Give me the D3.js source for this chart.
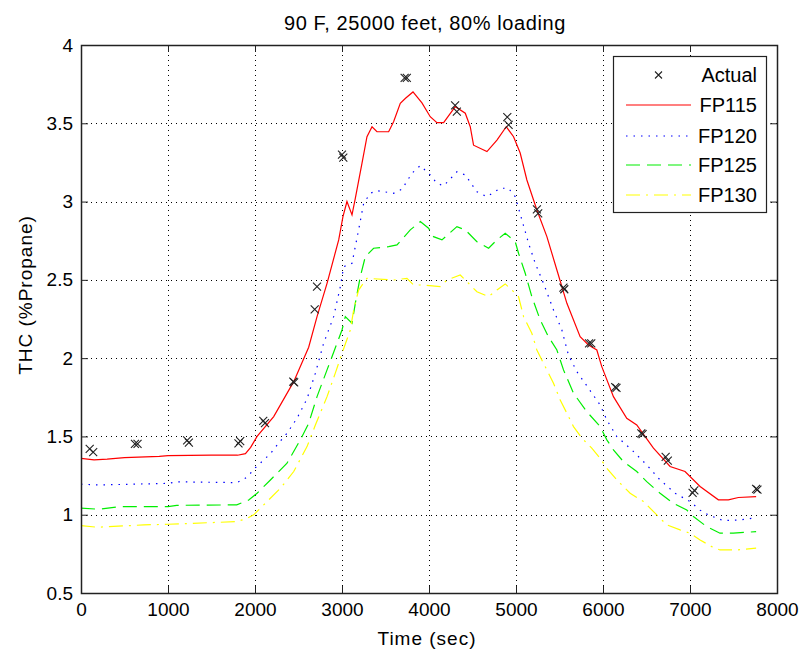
<!DOCTYPE html>
<html>
<head>
<meta charset="utf-8">
<script src="https://cdn.jsdelivr.net/npm/d3@7"></script>
<style>
html,body{margin:0;padding:0;background:#fff;}
svg text{font-family:"Liberation Sans",Arial,sans-serif;fill:#000;}
</style>
</head>
<body>
<svg id="chart" width="801" height="649"></svg>
<script>
// ---------- data ----------
const chartTitle = "90 F, 25000 feet, 80% loading";
const xLabel = "Time (sec)";
const yLabel = "THC (%Propane)";
const xTicks = [0,1000,2000,3000,4000,5000,6000,7000,8000];
const yTicks = [0.5,1,1.5,2,2.5,3,3.5,4];

const actualTime  = [100,140,620,650,1220,1240,1810,1830,2095,2115,2440,2450,2686,2713,3000,3015,3720,3745,4300,4320,4900,4915,5240,5255,5545,5555,5840,5865,6140,6155,6440,6455,6720,6745,7030,7050,7760,7775];
const actualValue = [1.42,1.40,1.452,1.452,1.475,1.46,1.455,1.47,1.60,1.585,1.85,1.845,2.312,2.457,3.30,3.28,3.79,3.79,3.615,3.575,3.54,3.49,2.95,2.925,2.45,2.44,2.095,2.095,1.815,1.81,1.52,1.515,1.37,1.345,1.14,1.155,1.165,1.16];

const fp115Time  = [0,150,300,500,900,1000,1500,1800,1890,1950,2024,2215,2445,2617,2713,2828,2962,3011,3057,3115,3153,3230,3287,3345,3402,3536,3593,3670,3730,3816,3919,4014,4091,4168,4302,4417,4474,4512,4666,4781,4888,4972,5048,5125,5240,5355,5470,5585,5737,5833,5929,5986,6120,6273,6388,6580,6771,6943,7116,7326,7441,7556,7760];
const fp115Value = [1.36,1.35,1.355,1.365,1.372,1.378,1.38,1.38,1.39,1.43,1.50,1.627,1.85,2.07,2.265,2.478,2.755,2.904,3.0,2.915,3.02,3.245,3.414,3.478,3.446,3.446,3.51,3.628,3.66,3.70,3.63,3.542,3.504,3.504,3.606,3.564,3.478,3.36,3.319,3.393,3.478,3.414,3.31,3.138,2.946,2.776,2.563,2.35,2.137,2.084,2.052,1.946,1.754,1.616,1.573,1.425,1.308,1.276,1.18,1.095,1.095,1.11,1.116];

const fp120Time  = [0,200,1000,1100,1794,1909,2004,2100,2177,2272,2368,2483,2598,2694,2789,2904,2981,3019,3115,3191,3249,3325,3402,3593,3689,3804,3900,4014,4091,4168,4321,4417,4551,4666,4819,4914,4991,5068,5144,5221,5316,5431,5527,5603,5699,5833,5967,6044,6159,6331,6503,6656,6829,7001,7116,7211,7384,7575,7760];
const fp120Value = [1.195,1.19,1.2,1.21,1.205,1.24,1.30,1.35,1.39,1.457,1.52,1.616,1.74,1.904,2.095,2.265,2.457,2.584,2.606,2.819,2.989,3.053,3.07,3.053,3.079,3.181,3.23,3.17,3.117,3.10,3.19,3.17,3.063,3.031,3.085,3.085,3.031,2.883,2.734,2.606,2.478,2.308,2.18,2.02,1.914,1.808,1.701,1.605,1.499,1.414,1.318,1.222,1.137,1.084,1.03,0.999,0.962,0.967,0.98];

const fp125Time  = [0,200,455,1000,1100,1790,1928,2024,2177,2368,2521,2617,2713,2828,2943,3000,3038,3115,3153,3210,3268,3363,3536,3632,3785,3900,3995,4052,4149,4321,4417,4551,4685,4781,4876,4991,5029,5106,5182,5278,5373,5470,5546,5661,5814,5967,6044,6120,6235,6388,6503,6656,6809,6963,7039,7192,7345,7498,7760];
const fp125Value = [1.042,1.035,1.052,1.052,1.06,1.063,1.094,1.137,1.222,1.329,1.478,1.584,1.754,1.925,2.095,2.18,2.265,2.223,2.35,2.52,2.648,2.702,2.712,2.723,2.819,2.872,2.83,2.776,2.755,2.84,2.819,2.744,2.702,2.755,2.798,2.744,2.67,2.542,2.393,2.244,2.137,2.052,1.925,1.776,1.658,1.563,1.478,1.414,1.339,1.276,1.211,1.137,1.073,1.03,0.988,0.924,0.882,0.882,0.892];

const fp130Time  = [0,186,722,1000,1794,1909,1985,2139,2292,2445,2598,2694,2828,2923,3000,3096,3134,3191,3287,3593,3747,3823,3938,4129,4206,4359,4417,4551,4685,4781,4876,4953,5029,5087,5182,5240,5335,5431,5508,5585,5661,5757,5871,5967,6044,6159,6312,6465,6618,6733,6886,7001,7116,7250,7345,7537,7760];
const fp130Value = [0.93,0.92,0.935,0.939,0.956,0.977,0.999,1.084,1.169,1.276,1.435,1.573,1.754,1.904,2.031,2.18,2.308,2.435,2.51,2.499,2.51,2.467,2.467,2.457,2.499,2.531,2.499,2.424,2.393,2.435,2.474,2.435,2.393,2.265,2.159,2.052,1.946,1.84,1.733,1.648,1.563,1.489,1.425,1.361,1.297,1.222,1.137,1.084,0.999,0.935,0.903,0.882,0.839,0.796,0.775,0.775,0.786];

const seriesNames = ["FP115","FP120","FP125","FP130"];
const seriesTimes = [fp115Time, fp120Time, fp125Time, fp130Time];
const seriesValues = [fp115Value, fp120Value, fp125Value, fp130Value];

// ---------- styles ----------
const seriesStyles = [
  {color:"#ff0000", dash:null},
  {color:"#0000ff", dash:"1.5,6"},
  {color:"#00ee00", dash:"14,7"},
  {color:"#ffff00", dash:"14,6,2,6"}
];

// ---------- layout ----------
const svg = d3.select("#chart");
const L = 81, R = 777, T = 45, B = 593;
const x = d3.scaleLinear().domain([0,8000]).range([L,R]);
const y = d3.scaleLinear().domain([0.5,4]).range([B,T]);

svg.append("rect").attr("x",0).attr("y",0).attr("width",801).attr("height",649).attr("fill","#fff");

// grid
const grid = svg.append("g").attr("stroke","#000").attr("stroke-width",1).attr("stroke-dasharray","1,4").attr("shape-rendering","crispEdges");
xTicks.slice(1,-1).forEach(t=>{
  grid.append("line").attr("x1",Math.round(x(t))+0.5).attr("x2",Math.round(x(t))+0.5).attr("y1",T).attr("y2",B);
});
yTicks.slice(1,-1).forEach(t=>{
  grid.append("line").attr("y1",Math.round(y(t))+0.5).attr("y2",Math.round(y(t))+0.5).attr("x1",L).attr("x2",R);
});

// series lines
const plot = svg.append("g");
seriesNames.forEach((name,i)=>{
  const pts = seriesTimes[i].map((t,j)=>[t, seriesValues[i][j]]);
  const line = d3.line().x(d=>x(d[0])).y(d=>y(d[1]));
  const p = plot.append("path").datum(pts).attr("d",line)
    .attr("fill","none").attr("stroke",seriesStyles[i].color).attr("stroke-width",1.2);
  if (seriesStyles[i].dash) p.attr("stroke-dasharray",seriesStyles[i].dash);
});

// actual markers
const ms = 4;
const mk = plot.append("g").attr("stroke","#222").attr("stroke-width",1.1);
actualTime.forEach((t,j)=>{
  const cx = x(t), cy = y(actualValue[j]);
  mk.append("path").attr("d",`M${cx-ms},${cy-ms}L${cx+ms},${cy+ms}M${cx-ms},${cy+ms}L${cx+ms},${cy-ms}`);
});

// axes (box with inward ticks)
const axisColor = "#222";
const tickLen = 7;
const xAxisB = d3.axisBottom(x).tickValues(xTicks).tickSizeInner(-tickLen).tickSizeOuter(0).tickPadding(10).tickFormat(d3.format("d"));
const xAxisT = d3.axisTop(x).tickValues(xTicks).tickSizeInner(-tickLen).tickSizeOuter(0).tickFormat("");
const yAxisL = d3.axisLeft(y).tickValues(yTicks).tickSizeInner(-tickLen).tickSizeOuter(0).tickPadding(8).tickFormat(d=>String(d));
const yAxisR = d3.axisRight(y).tickValues(yTicks).tickSizeInner(-tickLen).tickSizeOuter(0).tickFormat("");

function styleAxis(g){
  g.select(".domain").remove();
  g.selectAll(".tick line").attr("stroke",axisColor);
  g.selectAll("text").attr("font-size",19).attr("font-family","Liberation Sans, Arial, sans-serif").attr("fill","#000");
}
svg.append("g").attr("transform",`translate(0,${B})`).call(xAxisB).call(styleAxis);
svg.append("g").attr("transform",`translate(0,${T})`).call(xAxisT).call(styleAxis);
svg.append("g").attr("transform",`translate(${L},0)`).call(yAxisL).call(styleAxis);
svg.append("g").attr("transform",`translate(${R},0)`).call(yAxisR).call(styleAxis);

svg.append("rect").attr("x",L+0.5).attr("y",T+0.5).attr("width",R-L).attr("height",B-T)
  .attr("fill","none").attr("stroke",axisColor).attr("stroke-width",1.5);

// title & labels
svg.append("text").attr("x",425).attr("y",30).attr("text-anchor","middle").attr("font-size",20).attr("letter-spacing",0.6).text(chartTitle);
svg.append("text").attr("x",427).attr("y",645).attr("text-anchor","middle").attr("font-size",19).attr("letter-spacing",1).text(xLabel);
svg.append("text").attr("transform",`translate(32,295) rotate(-90)`).attr("text-anchor","middle").attr("font-size",19).attr("letter-spacing",1).text(yLabel);

// legend
const lg = svg.append("g");
lg.append("rect").attr("x",613.5).attr("y",56.5).attr("width",153).attr("height",156)
  .attr("fill","#fff").attr("stroke","#222").attr("stroke-width",1.2);
const rowY = [75,105,136,165,195];
const lx1 = 626, lx2 = 691, tx = 757;
// Actual
lg.append("path").attr("stroke","#222").attr("stroke-width",1.1)
  .attr("d",`M${658.5-3.5},${rowY[0]-3.5}L${658.5+3.5},${rowY[0]+3.5}M${658.5-3.5},${rowY[0]+3.5}L${658.5+3.5},${rowY[0]-3.5}`);
lg.append("text").attr("x",tx).attr("y",rowY[0]+7).attr("text-anchor","end").attr("font-size",20).text("Actual");
seriesNames.forEach((name,i)=>{
  const yy = rowY[i+1];
  const l = lg.append("line").attr("x1",lx1).attr("x2",lx2).attr("y1",yy).attr("y2",yy)
    .attr("stroke",seriesStyles[i].color).attr("stroke-width",1.2);
  if (seriesStyles[i].dash) l.attr("stroke-dasharray",seriesStyles[i].dash);
  lg.append("text").attr("x",tx).attr("y",yy+7).attr("text-anchor","end").attr("font-size",20).text(name);
});
</script>
</body>
</html>
